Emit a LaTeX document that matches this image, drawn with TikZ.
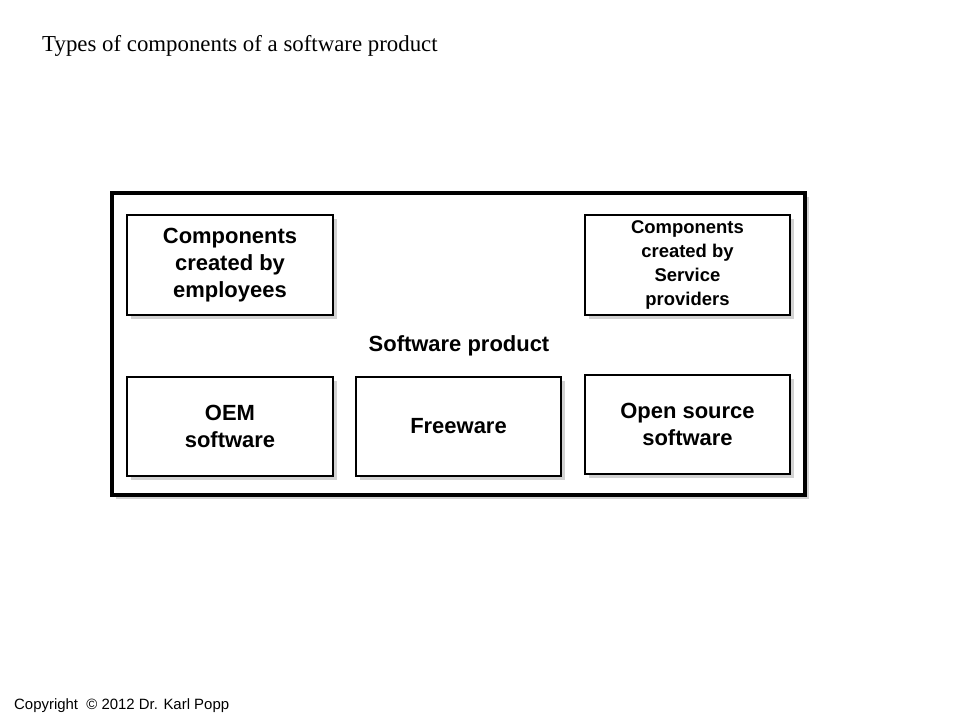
\documentclass[tikz,border=0pt]{standalone}
\usepackage{fontspec}
\setmainfont{Liberation Sans}
\newfontfamily\titlefont{Liberation Serif}
\usetikzlibrary{shadows}
\tikzset{
	compbox/.style={draw=black,line width=1.6pt,fill=white,align=center,font=\bfseries\fontsize{12.5}{15.5}\selectfont,
		drop shadow={shadow xshift=2pt,shadow yshift=-2pt,fill=black!35}},
}
\begin{document}
\begin{tikzpicture}[x=0.02cm,y=-0.02cm]
	\useasboundingbox (0,0) rectangle (960,720);
	\node[anchor=west,font=\titlefont\fontsize{13}{15}\selectfont] (title) at (36,46) {Types of components of a software product};
	\node[compbox,minimum width=693*0.02cm,minimum height=302*0.02cm,line width=1.8pt] (product) at (458.5,344) {};
	\node[font=\bfseries\fontsize{12.5}{15}\selectfont] (productlabel) at (459,346) {Software product};
	\node[compbox,minimum width=206*0.02cm,minimum height=100*0.02cm] (employees) at (230,265) {Components\\created by\\employees};
	\node[compbox,minimum width=205*0.02cm,minimum height=100*0.02cm,font=\bfseries\fontsize{10.5}{13.5}\selectfont] (providers) at (687.5,265) {Components\\created by\\Service\\providers};
	\node[compbox,minimum width=206*0.02cm,minimum height=99*0.02cm] (oem) at (230,426.5) {OEM\\software};
	\node[compbox,minimum width=205*0.02cm,minimum height=99*0.02cm] (freeware) at (458.5,426.5) {Freeware};
	\node[compbox,minimum width=205*0.02cm,minimum height=99*0.02cm] (opensource) at (687.5,424.5) {Open source\\software};
	\node[anchor=west,font=\fontsize{8.5}{10}\selectfont] (copyright) at (8,706) {Copyright~~\textcopyright{} 2012 Dr. Karl Popp};
\end{tikzpicture}
\end{document}
